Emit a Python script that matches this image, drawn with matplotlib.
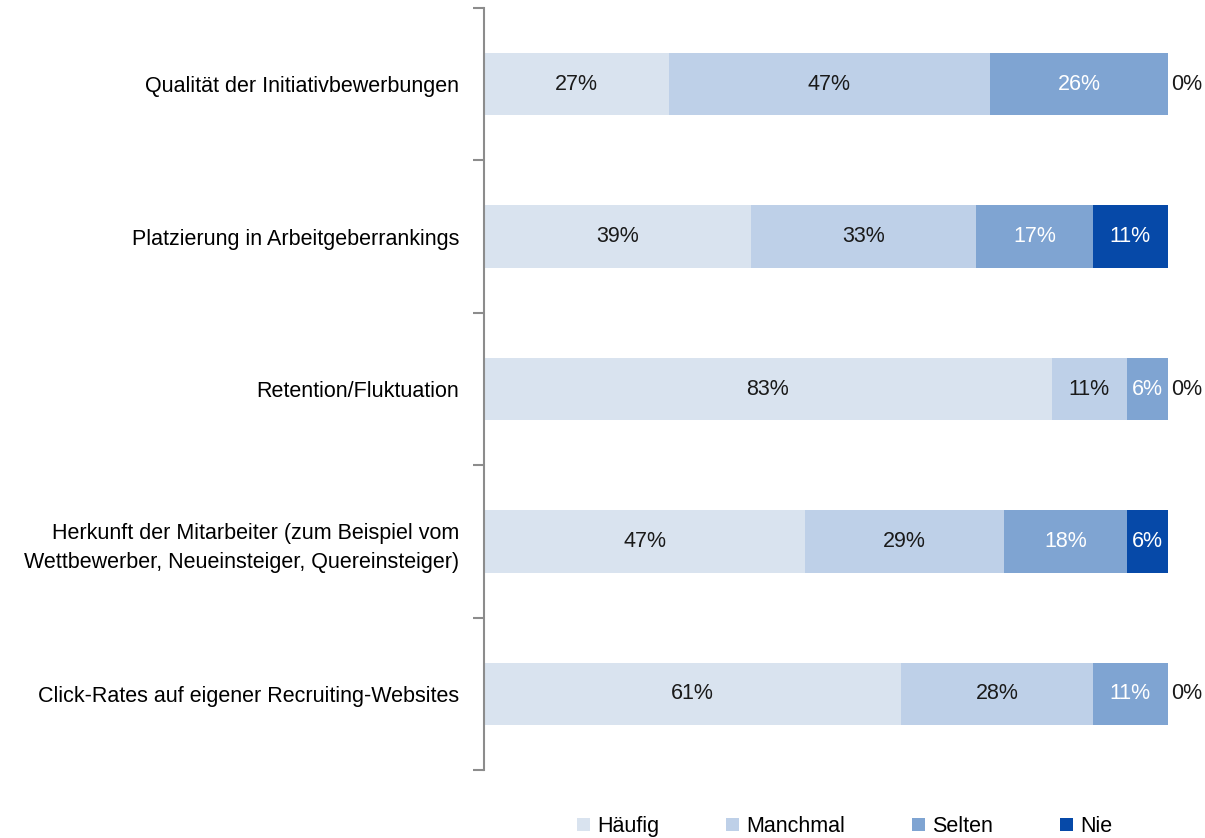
import matplotlib.pyplot as plt
import numpy as np

plt.rcParams['font.family'] = ['Liberation Sans', 'DejaVu Sans']

categories = [
    'Qualität der Initiativbewerbungen',
    'Platzierung in Arbeitgeberrankings',
    'Retention/Fluktuation',
    'Herkunft der Mitarbeiter (zum Beispiel vom\nWettbewerber, Neueinsteiger, Quereinsteiger)',
    'Click-Rates auf eigener Recruiting-Websites',
]
series = ['Häufig', 'Manchmal', 'Selten', 'Nie']
haeufig = [27, 39, 83, 47, 61]
manchmal = [47, 33, 11, 29, 28]
selten = [26, 17, 6, 18, 11]
nie = [0, 11, 0, 6, 0]

colors = ['#D9E3EF', '#BED0E8', '#7FA4D2', '#0649A8']
text_colors = ['#1a1a1a', '#1a1a1a', 'white', 'white']
FS = 15.5


def main():
    fig = plt.figure(figsize=(12.05, 8.38), dpi=100)
    ax = fig.add_axes([484 / 1205, 1 - 770 / 838, (1168 - 484) / 1205, (770 - 8) / 838])

    y = np.arange(len(categories))
    left = np.zeros(len(categories))
    data = [haeufig, manchmal, selten, nie]
    for vals, name, col, tcol in zip(data, series, colors, text_colors):
        vals = np.array(vals, dtype=float)
        ax.barh(y, vals, left=left, height=0.41, color=col, label=name)
        for yi, v, l in zip(y, vals, left):
            if v > 0:
                ax.text(l + v / 2, yi, f'{int(v)}%', ha='center', va='center',
                        color=tcol, fontsize=FS)
            elif name == 'Nie':
                ax.text(l + 0.5, yi, '0%', ha='left', va='center',
                        color='#1a1a1a', fontsize=FS)
        left += vals

    ax.set_xlim(0, 100)
    ax.set_ylim(len(categories) - 0.5, -0.5)
    for s in ['top', 'right', 'bottom']:
        ax.spines[s].set_visible(False)
    ax.spines['left'].set_color('#8c8c8c')
    ax.spines['left'].set_linewidth(1.5)
    ax.set_xticks([])
    ax.set_yticks(np.arange(-0.5, len(categories), 1.0))
    ax.set_yticklabels([])
    ax.tick_params(axis='y', which='major', length=8, width=1.5, color='#8c8c8c')
    ax.set_yticks(y, minor=True)
    ax.set_yticklabels(categories, minor=True, fontsize=FS, ha='right')
    ax.tick_params(axis='y', which='minor', length=0, pad=18)
    for lbl in ax.get_yticklabels(minor=True):
        lbl.set_multialignment('right')
        lbl.set_linespacing(1.5)

    fig.legend(loc='lower center', bbox_to_anchor=(0.701, -0.022), ncol=4,
               frameon=False, fontsize=FS, handlelength=0.6, handleheight=0.6,
               handletextpad=0.35, columnspacing=3.1)

    fig.savefig('out.png', dpi=100)


main()
